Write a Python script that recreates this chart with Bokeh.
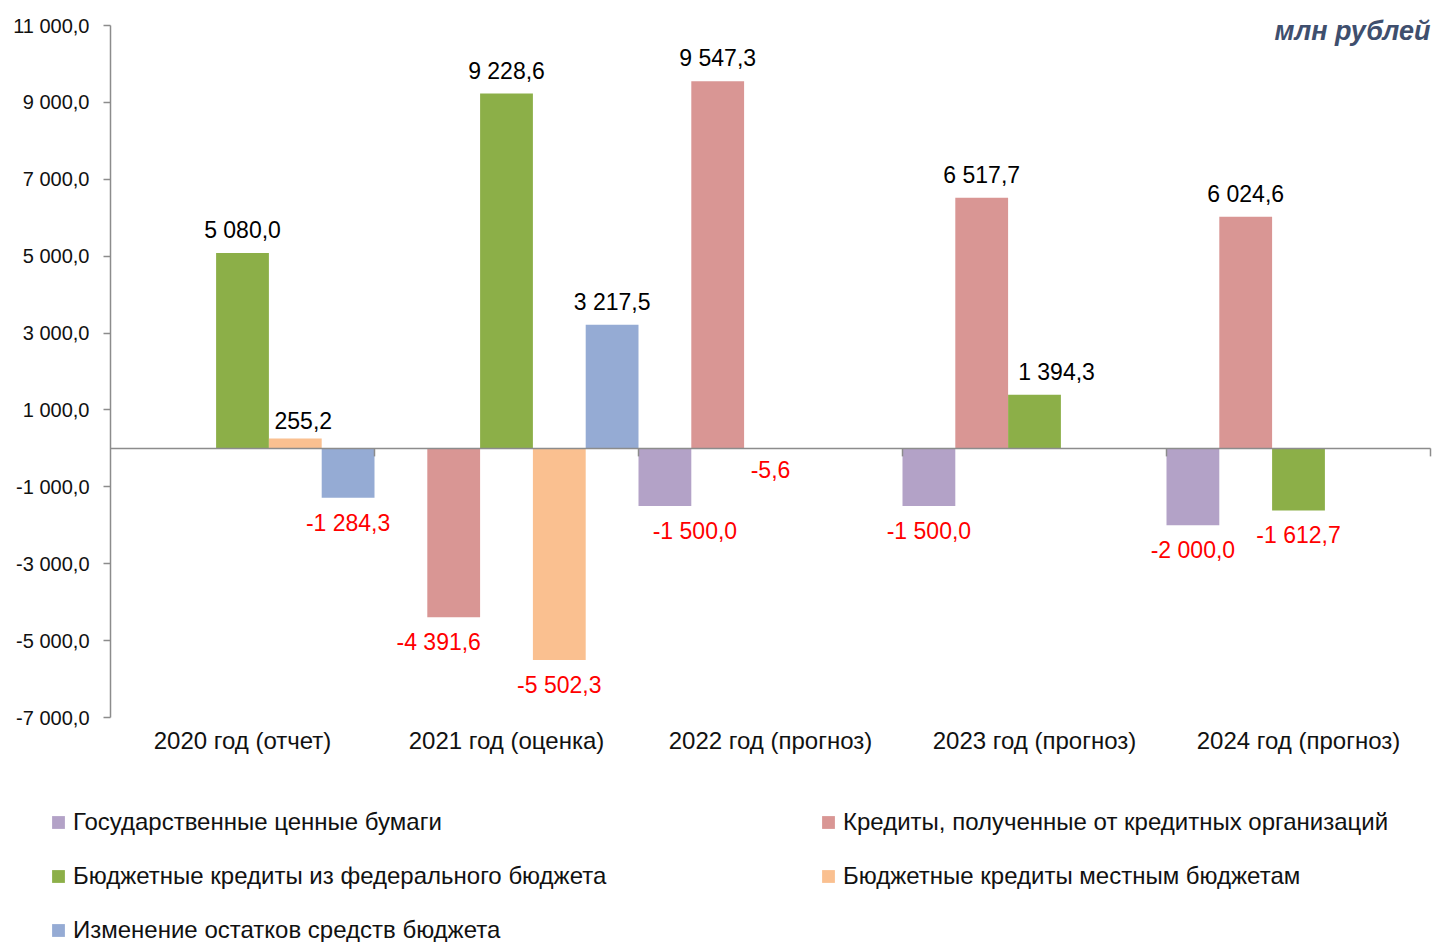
import math
from bokeh.plotting import figure
from bokeh.models import (Range1d, ColumnDataSource, Legend, LegendItem, LinearAxis,
                          Label, FixedTicker, CustomJSTickFormatter)
from bokeh.core.properties import value
from bokeh.embed import file_html
from bokeh.resources import INLINE

NAN = float("nan")

categories = ["2020 год (отчет)", "2021 год (оценка)", "2022 год (прогноз)",
              "2023 год (прогноз)", "2024 год (прогноз)"]

series_names = ["Государственные ценные бумаги",
                "Кредиты, полученные от кредитных организаций",
                "Бюджетные кредиты из федерального бюджета",
                "Бюджетные кредиты местным бюджетам",
                "Изменение остатков средств бюджета"]

gov_securities = [NAN, NAN, -1500.0, -1500.0, -2000.0]
bank_credits = [NAN, -4391.6, 9547.3, 6517.7, 6024.6]
federal_credits = [5080.0, 9228.6, -5.6, 1394.3, -1612.7]
local_credits = [255.2, -5502.3, NAN, NAN, NAN]
balance_change = [-1284.3, 3217.5, NAN, NAN, NAN]

y_ticks = [-7000, -5000, -3000, -1000, 1000, 3000, 5000, 7000, 9000, 11000]

series_values = [gov_securities, bank_credits, federal_credits, local_credits, balance_change]
series_colors = ["#B3A2C7", "#D99694", "#8CAF48", "#FAC090", "#95ABD4"]

# small horizontal nudges of a few data labels (category index, series index) -> px
label_nudge = {(2, 0): 30, (1, 1): -15, (3, 2): 22, (0, 3): 8}

FONT = "Liberation Sans"
W, H = 1434, 942


def fmt(v):
    s = f"{abs(v):,.1f}".replace(",", " ").replace(".", ",")
    return ("-" if v < 0 else "") + s


# Layout geometry (screen px): category area x 110..1430, value axis y 25..717
Y_MIN, Y_MAX = -7000, 11000
ncat = len(categories)
px_y = 692 / (Y_MAX - Y_MIN)
px_x = 1320 / ncat
x_range = Range1d(-110 / px_x, ncat + 4 / px_x)
y_range = Range1d(Y_MIN - (H - 717) / px_y, Y_MAX + 25 / px_y)

p = figure(x_range=x_range, y_range=y_range, width=W, height=H,
           output_backend="svg", toolbar_location=None,
           x_axis_location=None, y_axis_location=None,
           min_border_left=0, min_border_right=0, min_border_top=0, min_border_bottom=0)
p.outline_line_color = None
p.grid.visible = False
p.background_fill_color = "white"
p.border_fill_color = "white"

n = len(series_names)
bar_w = 1.0 / n
renderers = []
for j in range(n):
    rows = [(i, v) for i, v in enumerate(series_values[j]) if not math.isnan(v)]
    src = ColumnDataSource(dict(
        x=[i + bar_w * (j + 0.5) for i, _ in rows],
        val=[v for _, v in rows],
        label=[fmt(v) for _, v in rows],
        color=["#000000" if v >= 0 else "#FF0000" for _, v in rows],
        baseline=["bottom" if v >= 0 else "top" for _, v in rows],
        yoff=[-10 if v >= 0 else 12 for _, v in rows],
        xoff=[label_nudge.get((i, j), 0) for i, _ in rows],
    ))
    r = p.vbar(x="x", top="val", bottom=0, width=bar_w, source=src,
               fill_color=series_colors[j], line_color=None)
    renderers.append(r)
    p.text(x="x", y="val", text="label", source=src,
           text_color="color", text_baseline="baseline", text_align="center",
           x_offset="xoff", y_offset="yoff",
           text_font=value(FONT), text_font_size="23px")

# zero axis line across the category area
p.segment(x0=[0], x1=[ncat], y0=[0], y1=[0], line_color="#8C8C8C", line_width=1.5)
# category boundary ticks on the zero line
bsrc = ColumnDataSource(dict(x=[i + 1 for i in range(ncat)]))
p.ray(x="x", y=0, length=8, length_units="screen", angle=-90, angle_units="deg",
      source=bsrc, line_color="#8C8C8C", line_width=1.5)

# value axis
yax = LinearAxis(fixed_location=0, bounds=(Y_MIN, Y_MAX), ticker=FixedTicker(ticks=y_ticks))
yax.formatter = CustomJSTickFormatter(code="""
const s = Math.abs(tick).toFixed(1);
const parts = s.split('.');
const ip = parts[0].replace(/\\B(?=(\\d{3})+(?!\\d))/g, ' ');
return (tick < 0 ? '-' : '') + ip + ',' + parts[1];
""")
yax.axis_line_color = "#8C8C8C"
yax.axis_line_width = 1.5
yax.major_tick_line_color = "#8C8C8C"
yax.major_tick_line_width = 1.5
yax.major_tick_in = 0
yax.major_tick_out = 7
yax.minor_tick_line_color = None
yax.major_label_text_font = FONT
yax.major_label_text_font_size = "20px"
yax.major_label_text_color = "#111111"
yax.major_label_standoff = 14
p.add_layout(yax, "left")

# category axis
cat_ticks = [i + 0.5 for i in range(ncat)]
xax = LinearAxis(fixed_location=Y_MIN, ticker=FixedTicker(ticks=cat_ticks),
                 major_label_overrides={t: c for t, c in zip(cat_ticks, categories)})
xax.axis_line_color = None
xax.major_tick_line_color = None
xax.minor_tick_line_color = None
xax.major_label_text_font = FONT
xax.major_label_text_font_size = "24px"
xax.major_label_text_color = "#111111"
xax.major_label_standoff = 3
p.add_layout(xax, "below")

# unit label
p.add_layout(Label(x=ncat, y=Y_MAX, text="млн рублей", text_align="right",
                   text_baseline="middle", y_offset=-5, text_font=FONT, text_font_size="27px",
                   text_font_style="bold italic", text_color="#3F4F6E"))

# legend in two columns below the chart
legend_common = dict(orientation="vertical", glyph_width=16, glyph_height=16, label_standoff=7,
                     label_text_font=FONT, label_text_font_size="24px", label_text_color="#111111",
                     label_height=28, spacing=26, padding=0, margin=0,
                     border_line_color=None, background_fill_alpha=0)
leg_left = Legend(items=[LegendItem(label=series_names[k], renderers=[renderers[k]]) for k in (0, 2, 4)],
                  location=(50, -2), **legend_common)
leg_right = Legend(items=[LegendItem(label=series_names[k], renderers=[renderers[k]]) for k in (1, 3)],
                   location=(820, 52), **legend_common)
p.add_layout(leg_left, "center")
p.add_layout(leg_right, "center")

open("out.html", "w").write(file_html(p, INLINE))
